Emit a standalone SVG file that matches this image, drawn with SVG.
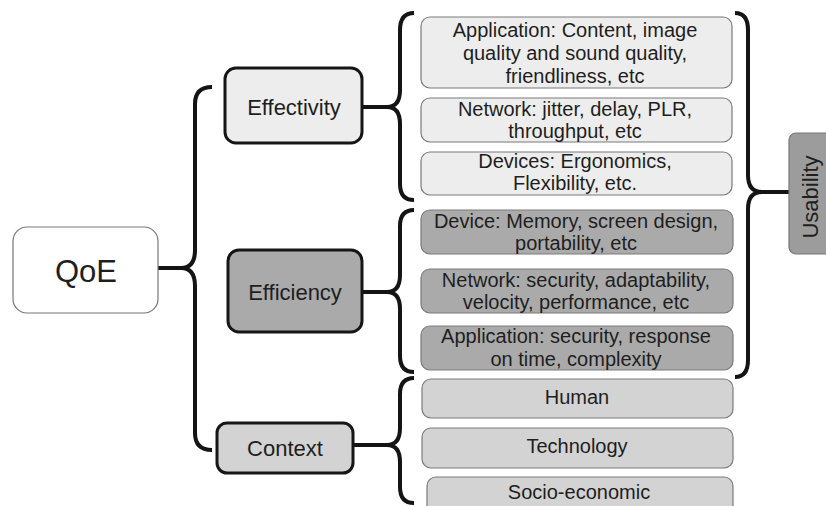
<svg xmlns="http://www.w3.org/2000/svg" width="826" height="506" viewBox="0 0 826 506">
<style>
text { font-family: "Liberation Sans", Arial, sans-serif; fill: #1e1e1e; text-anchor: middle; }
.main { stroke: #161616; stroke-width: 3; }
.item { stroke: #7a7a7a; stroke-width: 1.2; }
.t20 { font-size: 20px; }
.t22 { font-size: 22px; }
.brace { fill: none; stroke: #141414; stroke-width: 4; stroke-linecap: butt; stroke-linejoin: round; }
.l1 { fill: #ededed; }
.d1 { fill: #aaaaaa; }
.c1 { fill: #d3d3d3; }
</style>
<rect width="826" height="506" fill="#ffffff"/>
<g id="connectors">
  <path class="brace" d="M212,87 Q195,87 195,104 L195,250 Q195,268 181,268 Q195,268 195,286 L195,433 Q195,450 212,450"/>
  <path class="brace" d="M158,268 L183,268"/>
  <path class="brace" d="M414,13 Q400,13 400,30 L400,90 Q400,107 387,107 Q400,107 400,124 L400,184 Q400,200 414,200"/>
  <path class="brace" d="M363,107 L389,107"/>
  <path class="brace" d="M414,210 Q400,210 400,226 L400,275 Q400,292 387,292 Q400,292 400,309 L400,356 Q400,372 414,372"/>
  <path class="brace" d="M363,292 L389,292"/>
  <path class="brace" d="M414,378 Q400,378 400,394 L400,428 Q400,445 387,445 Q400,445 400,462 L400,487 Q400,503 414,503"/>
  <path class="brace" d="M354,445 L389,445"/>
  <path class="brace" d="M735,13 Q748,13 748,30 L748,175 Q748,192 762,192 Q748,192 748,209 L748,360 Q748,377 735,377"/>
  <path class="brace" d="M760,192 L789,192"/>
</g>
<g id="qoe">
  <rect x="13" y="227" width="145" height="86" rx="14" fill="#ffffff" stroke="#777777" stroke-width="1.2"/>
  <text x="86" y="282" font-size="31">QoE</text>
</g>
<g id="effectivity">
  <rect class="main l1" x="225" y="68" width="137" height="75" rx="11"/>
  <text class="t22" x="294" y="115">Effectivity</text>
</g>
<g id="efficiency">
  <rect class="main d1" x="228" y="250" width="134" height="82" rx="11"/>
  <text class="t22" x="295" y="300">Efficiency</text>
</g>
<g id="context">
  <rect class="main c1" x="217" y="423" width="136" height="50" rx="10"/>
  <text class="t22" x="285" y="456">Context</text>
</g>
<g id="usability">
  <rect x="789" y="133" width="44" height="121" rx="7" fill="#9c9c9c" stroke="#777777" stroke-width="1.2"/>
  <text class="t22" transform="translate(818,197) rotate(-90)">Usability</text>
</g>
<g id="eff-app">
  <rect class="item l1" x="421" y="17" width="311" height="71" rx="9"/>
  <text class="t20" x="575" y="37">Application: Content, image</text>
  <text class="t20" x="575" y="60">quality and sound quality,</text>
  <text class="t20" x="575" y="83">friendliness, etc</text>
</g>
<g id="eff-net">
  <rect class="item l1" x="421" y="98" width="311" height="44" rx="9"/>
  <text class="t20" x="575" y="116">Network: jitter, delay, PLR,</text>
  <text class="t20" x="575" y="138">throughput, etc</text>
</g>
<g id="eff-dev">
  <rect class="item l1" x="421" y="152" width="311" height="43" rx="9"/>
  <text class="t20" x="575" y="168">Devices: Ergonomics,</text>
  <text class="t20" x="575" y="190">Flexibility, etc.</text>
</g>
<g id="effi-dev">
  <rect class="item d1" x="421" y="210" width="312" height="44" rx="9"/>
  <text class="t20" x="576" y="228">Device: Memory, screen design,</text>
  <text class="t20" x="576" y="250">portability, etc</text>
</g>
<g id="effi-net">
  <rect class="item d1" x="421" y="269" width="312" height="44" rx="9"/>
  <text class="t20" x="576" y="287">Network: security, adaptability,</text>
  <text class="t20" x="576" y="309">velocity, performance, etc</text>
</g>
<g id="effi-app">
  <rect class="item d1" x="421" y="326" width="312" height="44" rx="9"/>
  <text class="t20" x="576" y="343">Application: security, response</text>
  <text class="t20" x="576" y="366">on time, complexity</text>
</g>
<g id="ctx-human">
  <rect class="item c1" x="422" y="379" width="311" height="39" rx="9"/>
  <text class="t20" x="577" y="404">Human</text>
</g>
<g id="ctx-tech">
  <rect class="item c1" x="422" y="428" width="311" height="40" rx="9"/>
  <text class="t20" x="577" y="453">Technology</text>
</g>
<g id="ctx-socio">
  <rect class="item c1" x="427" y="477" width="306" height="40" rx="9"/>
  <text class="t20" x="579" y="499">Socio-economic</text>
</g>
</svg>
